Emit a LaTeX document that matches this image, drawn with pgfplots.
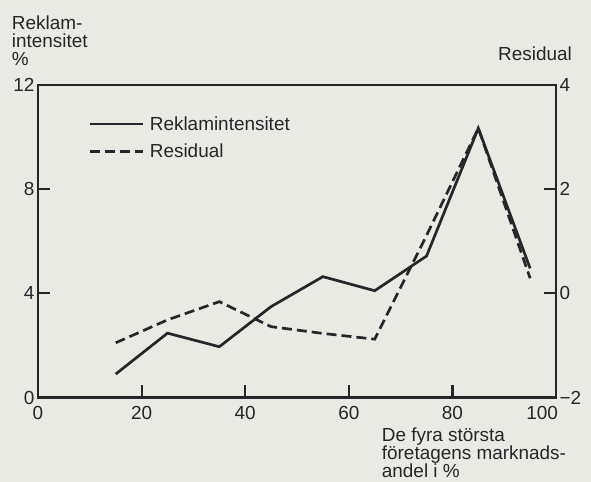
\documentclass[border=0pt]{standalone}
\usepackage{pgfplots}
\pgfplotsset{compat=1.18}
\usepackage{fontspec}
\setmainfont{Liberation Sans}
\definecolor{bgcol}{RGB}{234,234,229}
\definecolor{ink}{RGB}{38,38,42}
\begin{document}
\begin{tikzpicture}[font=\fontsize{19}{18}\selectfont, x=1bp, y=1bp]
\path[fill=bgcol, use as bounding box] (0,0) rectangle (591,482);
\begin{axis}[
  at={(38bp,84.5bp)}, anchor=south west,
  scale only axis, width=518bp, height=312.5bp,
  xmin=0, xmax=100, ymin=0, ymax=12,
  xtick={0,20,40,60,80,100},
  xticklabels={0,20,40,60,80,\llap{100\hspace{-2bp}}},
  ytick={0,4,8,12},
  yticklabels={0,4,8,12},
  xtick pos=bottom, ytick pos=left,
  tick align=inside, major tick length=12bp,
  axis line style={line width=2.2bp, ink},
  every tick/.style={line width=2.2bp, ink},
  tick label style={font=\fontsize{19}{18}\selectfont, text=ink},
  xticklabel style={yshift=-5bp},
  legend style={at={(axis description cs:0.0965,0.90)}, anchor=north west,
    draw=none, fill=none, inner sep=0pt, row sep=12bp,
    font=\fontsize{19}{18}\selectfont, text=ink,
    nodes={inner sep=0pt, anchor=west},
    /tikz/every odd column/.append style={column sep=6bp}},
  legend cell align=left,
  legend image code/.code={\draw[#1] (0bp,0bp) -- (53bp,0bp);},
]
\addplot[ink, line width=2.7bp, line join=miter] coordinates {
 (15,0.90) (25,2.47) (35,1.95) (45,3.49) (55,4.64) (65,4.10) (75,5.43) (85,10.34) (95,4.96)};
\addlegendentry{Reklamintensitet}
\addlegendimage{ink, line width=2.7bp, dash pattern=on 10bp off 5bp}
\addlegendentry{Residual}
\end{axis}
\begin{axis}[
  at={(38bp,84.5bp)}, anchor=south west,
  scale only axis, width=518bp, height=312.5bp,
  xmin=0, xmax=100, ymin=-2, ymax=4,
  axis x line=none, axis y line*=right,
  ytick={-2,0,2,4},
  yticklabels={−2,0,2,4},
  tick align=inside, major tick length=12bp,
  axis line style={line width=2.2bp, ink, -},
  every tick/.style={line width=2.2bp, ink},
  tick label style={font=\fontsize{19}{18}\selectfont, text=ink},
]
\addplot[ink, line width=2.7bp, dash pattern=on 10bp off 5bp, line join=miter] coordinates {
 (15,-0.95) (25,-0.51) (35,-0.16) (45,-0.64) (55,-0.77) (65,-0.88) (75,1.11) (85,3.17) (95,0.29)};
\end{axis}
\node[anchor=north west, align=left, inner sep=0pt, text=ink] at (11.7,482-16) {Reklam-\\intensitet\\\%};
\node[anchor=north east, inner sep=0pt, text=ink] at (572,482-47) {Residual};
\node[anchor=north west, align=left, inner sep=0pt, text=ink] at (381.7,482-428) {De fyra största\\företagens marknads-\\andel i \%};
\end{tikzpicture}
\end{document}
